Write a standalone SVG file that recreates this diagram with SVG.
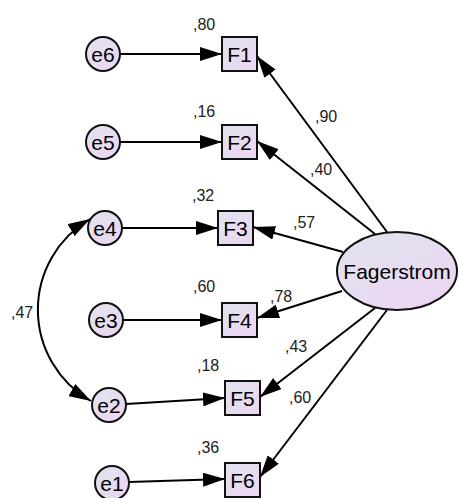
<svg xmlns="http://www.w3.org/2000/svg" width="460" height="498" viewBox="0 0 460 498">
<defs>
<linearGradient id="g" x1="0" y1="0" x2="1" y2="1">
<stop offset="0" stop-color="#e0e4ef"/>
<stop offset="1" stop-color="#edd4f1"/>
</linearGradient>
<marker id="ah" markerUnits="userSpaceOnUse" markerWidth="22" markerHeight="14" refX="22" refY="7" orient="auto-start-reverse" viewBox="0 0 22 14">
<path d="M0,0 L22,7 L0,14 z" fill="#000"/>
</marker>
<style>
.n{fill:url(#g);stroke:#111;stroke-width:2}
.t{font-family:"Liberation Sans",Arial,sans-serif;font-size:21px;fill:#000;text-anchor:middle}
.l{font-family:"Liberation Sans",Arial,sans-serif;font-size:16px;fill:#222}
.e{fill:none;stroke:#000;stroke-width:2;marker-end:url(#ah)}
</style>
</defs>
<rect width="460" height="498" fill="#fff"/>
<g id="connectors">
<path class="e" d="M120,54 L222,54"/>
<path class="e" d="M120,142 L222,142"/>
<path class="e" d="M122,228 L218,228"/>
<path class="e" d="M123,320 L222,320"/>
<path class="e" d="M126,404 L225,398"/>
<path class="e" d="M129,482 L225,479"/>
<path class="e" d="M387,232 L257,56"/>
<path class="e" d="M375,234 L257,141"/>
<path class="e" d="M343,252 L253,227"/>
<path class="e" d="M342,291 L257,318"/>
<path class="e" d="M375,308 L260,397"/>
<path class="e" d="M387,310 L260,477"/>
<path class="e" style="marker-start:url(#ah)" d="M90,219 A105,105 0 0,0 91,401"/>
</g>
<g id="labels">
<text class="l" x="193" y="30">,80</text>
<text class="l" x="193" y="117">,16</text>
<text class="l" x="192" y="201">,32</text>
<text class="l" x="193" y="292">,60</text>
<text class="l" x="197" y="371">,18</text>
<text class="l" x="197" y="453">,36</text>
<text class="l" x="11" y="318">,47</text>
<text class="l" x="315" y="122">,90</text>
<text class="l" x="310" y="175">,40</text>
<text class="l" x="293" y="228">,57</text>
<text class="l" x="270" y="302">,78</text>
<text class="l" x="285" y="352">,43</text>
<text class="l" x="289" y="403">,60</text>
</g>
<g id="e6"><circle class="n" cx="103" cy="54" r="17"/><text class="t" x="103" y="61.5">e6</text></g>
<g id="e5"><circle class="n" cx="103" cy="142" r="17"/><text class="t" x="103" y="149.5">e5</text></g>
<g id="e4"><circle class="n" cx="105" cy="228" r="17"/><text class="t" x="105" y="235.5">e4</text></g>
<g id="e3"><circle class="n" cx="106" cy="320" r="17"/><text class="t" x="106" y="327.5">e3</text></g>
<g id="e2"><circle class="n" cx="109" cy="405" r="17"/><text class="t" x="109" y="412.5">e2</text></g>
<g id="e1"><circle class="n" cx="112" cy="483" r="17"/><text class="t" x="112" y="490.5">e1</text></g>
<g id="F1"><rect class="n" x="222" y="37" width="35" height="34"/><text class="t" x="239.5" y="61.5">F1</text></g>
<g id="F2"><rect class="n" x="222" y="125" width="35" height="34"/><text class="t" x="239.5" y="149.5">F2</text></g>
<g id="F3"><rect class="n" x="218" y="211" width="35" height="34"/><text class="t" x="235.5" y="235.5">F3</text></g>
<g id="F4"><rect class="n" x="222" y="303" width="35" height="34"/><text class="t" x="239.5" y="327.5">F4</text></g>
<g id="F5"><rect class="n" x="225" y="381" width="35" height="34"/><text class="t" x="242.5" y="405.5">F5</text></g>
<g id="F6"><rect class="n" x="225" y="463" width="35" height="34"/><text class="t" x="242.5" y="487.5">F6</text></g>
<g id="Fagerstrom"><ellipse class="n" cx="397" cy="271" rx="60" ry="39"/><text class="t" x="397" y="278.5">Fagerstrom</text></g>
</svg>
